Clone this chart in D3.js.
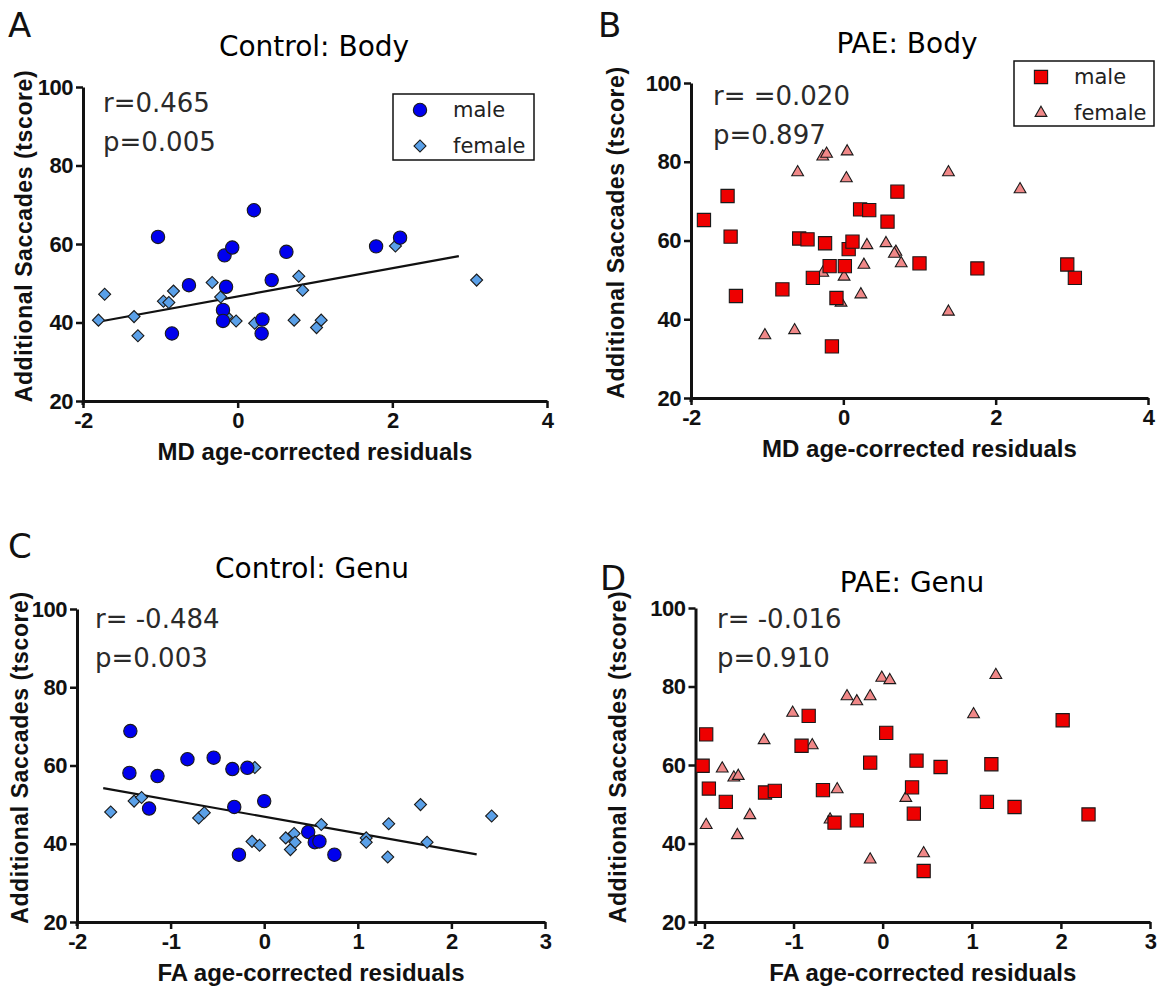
<!DOCTYPE html>
<html>
<head>
<meta charset="utf-8">
<title>Additional saccades vs DTI residuals</title>
<script src="https://d3js.org/d3.v7.min.js"></script>
<style>
  body { margin: 0; background: #fff; }
</style>
</head>
<body>
<svg width="1159" height="994"></svg>
<script>
// tick values
var yTicks = [20, 40, 60, 80, 100];
var mdTicks = [-2, 0, 2, 4];
var faTicks = [-2, -1, 0, 1, 2, 3];

// A - Control: Body  [MD residual, tscore]
var ctrlBodyMale = [[-1.03,61.8],[-0.85,37.2],[-0.63,49.5],[0.21,68.6],[-0.17,57.1],[-0.07,59.1],[-0.15,49.1],
  [-0.19,43.2],[-0.19,40.4],[0.32,40.8],[0.31,37.2],[0.44,50.8],[0.63,58.0],[1.79,59.4],[2.10,61.6]];
var ctrlBodyFemale = [[-1.80,40.6],[-1.72,47.2],[-1.34,41.5],[-1.29,36.6],[-0.96,45.4],[-0.89,45.1],[-0.83,48.0],
  [-0.33,50.2],[-0.22,46.5],[-0.14,41.5],[-0.02,40.4],[0.22,39.8],[0.79,51.8],[0.84,48.2],[0.73,40.6],
  [1.02,38.7],[1.08,40.6],[2.04,59.5],[3.09,50.8]];
var ctrlBodyFit = [[-1.8,40.2],[2.86,56.9]];

// B - PAE: Body
var paeBodyMale = [[-1.83,65.2],[-1.52,71.3],[-1.48,61.0],[-1.41,45.9],[-0.80,47.6],[-0.58,60.5],[-0.47,60.3],
  [-0.40,50.5],[-0.24,59.3],[-0.18,53.5],[-0.15,33.1],[-0.09,45.4],[0.02,53.5],[0.07,57.8],[0.12,59.7],
  [0.22,67.9],[0.34,67.7],[0.58,64.8],[0.71,72.4],[1.00,54.2],[1.76,52.9],[2.94,53.9],[3.04,50.5]];
var paeBodyFemale = [[-1.03,35.9],[-0.64,37.2],[-0.60,77.3],[-0.27,81.3],[-0.22,82.0],[0.05,82.6],[0.04,75.8],
  [-0.27,51.8],[-0.03,44.2],[0.01,50.8],[0.23,46.3],[0.27,53.8],[0.31,58.8],[0.56,59.3],[0.69,57.1],
  [0.67,56.6],[0.76,54.2],[1.38,77.3],[1.38,41.9],[2.32,73.0]];

// C - Control: Genu  [FA residual, tscore]
var ctrlGenuMale = [[-1.43,68.8],[-1.44,58.1],[-1.14,57.3],[-1.23,49.0],[-0.82,61.6],[-0.54,62.0],[-0.34,59.1],
  [-0.18,59.4],[-0.32,49.4],[0.00,50.9],[-0.27,37.2],[0.47,43.0],[0.54,40.4],[0.59,40.6],[0.75,37.2]];
var ctrlGenuFemale = [[-1.64,48.1],[-1.39,50.9],[-1.31,51.8],[-0.70,46.6],[-0.64,47.9],[-0.10,59.5],[-0.13,40.6],
  [-0.05,39.6],[0.23,41.5],[0.28,38.5],[0.32,42.6],[0.33,40.4],[0.61,44.9],[1.09,41.5],[1.09,40.4],
  [1.33,45.1],[1.32,36.6],[1.67,50.0],[1.74,40.4],[2.43,47.1]];
var ctrlGenuFit = [[-1.72,54.2],[2.27,37.3]];

// D - PAE: Genu
var paeGenuMale = [[-1.98,67.8],[-2.02,59.8],[-1.95,54.0],[-1.76,50.6],[-1.32,53.0],[-1.21,53.4],[-0.91,64.9],
  [-0.83,72.5],[-0.67,53.6],[-0.54,45.3],[-0.29,45.9],[-0.14,60.6],[0.04,68.2],[0.38,61.1],[0.33,54.3],
  [0.35,47.6],[0.46,33.0],[0.65,59.5],[1.22,60.2],[1.17,50.6],[1.48,49.3],[2.02,71.4],[2.31,47.4]];
var paeGenuFemale = [[-1.98,44.7],[-1.80,59.1],[-1.67,56.8],[-1.62,57.2],[-1.63,42.1],[-1.49,47.2],[-1.33,66.3],
  [-1.01,73.3],[-0.79,65.0],[-0.59,46.1],[-0.51,53.8],[-0.40,77.5],[-0.29,76.2],[-0.14,77.5],[-0.14,35.9],
  [-0.01,82.2],[0.08,81.6],[0.26,51.6],[0.46,37.5],[1.02,72.9],[1.27,82.9]];

var svg = d3.select("svg");
var tickFont = "'Liberation Sans', Arial, sans-serif";
var textFont = "'DejaVu Sans', Verdana, sans-serif";

var ctrlStyle = {
  male:   { shape: d3.symbolCircle, size: 140, fill: "#0000ee", rot: 0 },
  female: { shape: d3.symbolSquare, size: 72, fill: "#5aa0e8", rot: 45 }
};
var paeStyle = {
  male:   { shape: d3.symbolSquare, size: 175, fill: "#ee0000", rot: 0 },
  female: { shape: d3.symbolTriangle, size: 60, fill: "#f08888", rot: 0 }
};

var panels = [
  { letter: "A", lx: 8, ly: 37, title: "Control: Body", tx: 314, ty: 56,
    xDom: [-2, 4], xRange: [83, 547], yRange: [401, 87], xTicks: mdTicks,
    xLabel: "MD age-corrected residuals", yLabelX: 32,
    male: ctrlBodyMale, female: ctrlBodyFemale, fit: ctrlBodyFit, style: ctrlStyle,
    r: "r=0.465", p: "p=0.005", sx: 103, sy: 112,
    legend: { x: 393, y: 94, w: 141, h: 66 } },
  { letter: "B", lx: 598, ly: 37, title: "PAE: Body", tx: 907, ty: 53,
    xDom: [-2, 4], xRange: [691, 1148], yRange: [398, 83], xTicks: mdTicks,
    xLabel: "MD age-corrected residuals", yLabelX: 624,
    male: paeBodyMale, female: paeBodyFemale, fit: null, style: paeStyle,
    r: "r= =0.020", p: "p=0.897", sx: 713, sy: 105,
    legend: { x: 1014, y: 61, w: 140, h: 65 } },
  { letter: "C", lx: 8, ly: 558, title: "Control: Genu", tx: 312, ty: 578,
    xDom: [-2, 3], xRange: [77, 545], yRange: [922, 609], xTicks: faTicks,
    xLabel: "FA age-corrected residuals", yLabelX: 28,
    male: ctrlGenuMale, female: ctrlGenuFemale, fit: ctrlGenuFit, style: ctrlStyle,
    r: "r= -0.484", p: "p=0.003", sx: 95, sy: 628,
    legend: null },
  { letter: "D", lx: 600, ly: 590, title: "PAE: Genu", tx: 912, ty: 592,
    xDom: [-2.1, 3], xRange: [695.5, 1150], yRange: [922, 608], xTicks: faTicks,
    xLabel: "FA age-corrected residuals", yLabelX: 626,
    male: paeGenuMale, female: paeGenuFemale, fit: null, style: paeStyle,
    r: "r= -0.016", p: "p=0.910", sx: 717, sy: 628,
    legend: null }
];

function marker(sel, st) {
  sel.attr("d", d3.symbol().type(st.shape).size(st.size))
    .attr("fill", st.fill)
    .attr("stroke", "#1a1a1a")
    .attr("stroke-width", 1.1);
}

panels.forEach(function(pn) {
  var x = d3.scaleLinear().domain(pn.xDom).range(pn.xRange);
  var y = d3.scaleLinear().domain([20, 100]).range(pn.yRange);
  var g = svg.append("g");

  // panel letter and title
  g.append("text").attr("x", pn.lx).attr("y", pn.ly)
    .attr("font-family", textFont).attr("font-size", 34).attr("fill", "#111")
    .text(pn.letter);
  g.append("text").attr("x", pn.tx).attr("y", pn.ty)
    .attr("text-anchor", "middle")
    .attr("font-family", textFont).attr("font-size", 28).attr("fill", "#000")
    .text(pn.title);

  // axes
  var xAxis = g.append("g")
    .attr("transform", "translate(0," + pn.yRange[0] + ")")
    .call(d3.axisBottom(x).tickValues(pn.xTicks).tickSize(7).tickSizeOuter(0).tickPadding(4).tickFormat(d3.format("d")));
  var yAxis = g.append("g")
    .attr("transform", "translate(" + pn.xRange[0] + ",0)")
    .call(d3.axisLeft(y).tickValues(yTicks).tickSize(7).tickSizeOuter(0).tickPadding(3));
  [xAxis, yAxis].forEach(function(ax) {
    ax.select(".domain").attr("stroke", "#111").attr("stroke-width", 3);
    ax.selectAll(".tick line").attr("stroke", "#111").attr("stroke-width", 2.5);
    ax.selectAll(".tick text").attr("fill", "#111")
      .attr("font-family", tickFont).attr("font-weight", "bold").attr("font-size", 22)
      .attr("letter-spacing", -0.5);
  });
  xAxis.selectAll(".tick text").text(function(d) { return d < 0 ? "-" + Math.abs(d) : d; });
  // y axis line continues a little below the x axis
  g.append("line").attr("x1", pn.xRange[0]).attr("x2", pn.xRange[0])
    .attr("y1", pn.yRange[0]).attr("y2", pn.yRange[0] + 4)
    .attr("stroke", "#111").attr("stroke-width", 3);

  // axis titles
  g.append("text").attr("x", (pn.xRange[0] + pn.xRange[1]) / 2).attr("y", pn.yRange[0] + 59)
    .attr("text-anchor", "middle")
    .attr("font-family", tickFont).attr("font-weight", "bold").attr("font-size", 24).attr("fill", "#111")
    .text(pn.xLabel);
  g.append("text")
    .attr("transform", "translate(" + pn.yLabelX + "," + ((pn.yRange[0] + pn.yRange[1]) / 2 - 8) + ") rotate(-90)")
    .attr("text-anchor", "middle")
    .attr("font-family", tickFont).attr("font-weight", "bold").attr("font-size", 23)
    .attr("letter-spacing", 0.6).attr("fill", "#111")
    .text("Additional Saccades (tscore)");

  // regression line
  if (pn.fit) {
    g.append("path").datum(pn.fit)
      .attr("d", d3.line().x(function(d) { return x(d[0]); }).y(function(d) { return y(d[1]); }))
      .attr("stroke", "#111").attr("stroke-width", 2.2).attr("fill", "none");
  }

  // points: female first then male, as in the figure
  [["female", pn.female], ["male", pn.male]].forEach(function(pair) {
    var st = pn.style[pair[0]];
    g.append("g").selectAll("path").data(pair[1]).enter().append("path")
      .attr("transform", function(d) { return "translate(" + x(d[0]) + "," + y(d[1]) + ") rotate(" + st.rot + ")"; })
      .call(marker, st);
  });

  // statistics
  [pn.r, pn.p].forEach(function(t, i) {
    g.append("text").attr("x", pn.sx).attr("y", pn.sy + i * 39)
      .attr("font-family", textFont).attr("font-size", 26).attr("fill", "#2a2a2a")
      .text(t);
  });

  // legend
  if (pn.legend) {
    var L = pn.legend;
    g.append("rect").attr("x", L.x).attr("y", L.y).attr("width", L.w).attr("height", L.h)
      .attr("fill", "#fff").attr("stroke", "#111").attr("stroke-width", 1.5);
    ["male", "female"].forEach(function(k, i) {
      var st = pn.style[k];
      var cy = L.y + 16 + i * 36;
      g.append("path")
        .attr("transform", "translate(" + (L.x + 27) + "," + cy + ") rotate(" + st.rot + ")")
        .call(marker, st);
      g.append("text").attr("x", L.x + 60).attr("y", cy + 7)
        .attr("font-family", textFont).attr("font-size", 21).attr("fill", "#222")
        .text(k);
    });
  }
});
</script>
</body>
</html>
